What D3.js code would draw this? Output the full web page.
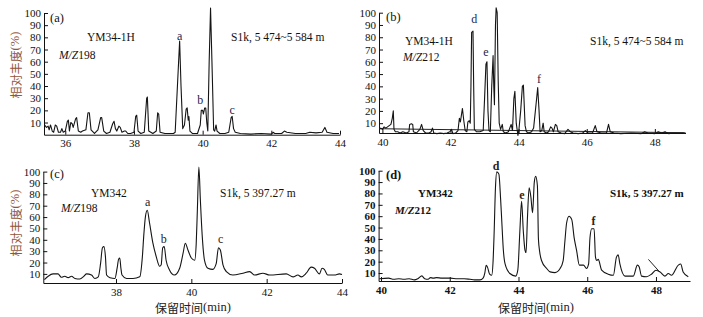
<!DOCTYPE html>
<html>
<head>
<meta charset="utf-8">
<script src="https://cdn.jsdelivr.net/npm/d3@7"></script>
<style>
body { margin: 0; background: #fff; }
svg { display: block; }
</style>
</head>
<body>
<div class="container"></div>
<script>
var yTicks = [10, 20, 30, 40, 50, 60, 70, 80, 90, 100];
var ticksA = [36, 38, 40, 42, 44];
var ticksB = [40, 42, 44, 46, 48];
var ticksC = [38, 40, 42, 44];
var ticksD = [40, 42, 44, 46, 48];

var wellTop = 'YM34-1H';
var wellBottom = 'YM342';
var depthTop = 'S1k, 5 474~5 584 m';
var depthBottom = 'S1k, 5 397.27 m';
var mzLeft = '198';
var mzRight = '212';

var peaksA = [['a', 39.33, 81], ['b', 39.93, 28.5], ['c', 40.86, 20]];
var peaksB = [['d', 42.7, 94.8], ['e', 43.04, 68], ['f', 44.6, 46]];
var peaksC = [['a', 38.84, 73.5], ['b', 39.27, 40.7], ['c', 40.78, 40.7]];
var peaksD = [['d', 43.35, 104], ['e', 44.1, 78.8], ['f', 46.18, 56]];

// retention time (min), relative abundance (%)
var traceA = [[35.40, 8], [35.45, 6], [35.5, 7], [35.53, 4], [35.57, 8], [35.62, 3], [35.66, 2], [35.71, 8], [35.75, 7],
    [35.8, 2], [35.86, 2], [35.9, 5], [35.94, 2], [36.0, 3], [36.06, 11], [36.09, 12], [36.12, 3], [36.16, 10], [36.2, 9],
    [36.23, 6], [36.3, 13], [36.33, 14], [36.38, 3], [36.45, 2], [36.5, 3], [36.6, 4], [36.66, 18], [36.7, 18], [36.75, 4],
    [36.85, 1], [36.95, 4], [37.03, 14], [37.06, 14], [37.12, 3], [37.2, 1], [37.3, 2], [37.38, 9], [37.42, 11], [37.46, 5],
    [37.5, 3], [37.56, 7], [37.6, 6], [37.65, 2], [37.72, 3], [37.76, 3], [37.82, 1], [37.9, 1], [38.0, 2], [38.05, 15],
    [38.08, 16], [38.12, 3], [38.2, 1], [38.3, 2], [38.37, 30], [38.39, 31], [38.43, 3], [38.55, 1], [38.65, 3], [38.69, 18],
    [38.72, 17], [38.76, 2], [38.9, 1], [39.05, 1], [39.15, 1], [39.2, 2], [39.3, 60], [39.33, 77], [39.37, 40], [39.42, 5],
    [39.47, 8], [39.52, 21], [39.55, 22], [39.58, 12], [39.6, 15], [39.63, 3], [39.7, 1], [39.85, 1], [39.93, 8], [39.96, 20],
    [40.0, 20], [40.02, 17], [40.06, 22], [40.09, 22], [40.12, 10], [40.15, 3], [40.19, 60], [40.23, 104], [40.28, 50],
    [40.32, 4], [40.35, 3], [40.39, 8], [40.42, 3], [40.5, 1], [40.65, 1], [40.76, 2], [40.83, 14], [40.86, 15], [40.9, 5],
    [40.95, 2], [41.1, 1], [41.4, 0.5], [41.7, 1], [42.0, 0.5], [42.05, 2], [42.1, 1], [42.3, 1], [42.38, 3], [42.45, 2],
    [42.7, 1], [43.0, 1], [43.12, 2], [43.3, 1.5], [43.48, 2], [43.56, 6], [43.62, 2], [43.8, 1], [43.97, 1]];

var traceB = [[39.91, 5], [39.95, 6], [40.0, 5], [40.05, 7], [40.1, 6], [40.15, 7], [40.2, 8], [40.25, 9], [40.29, 14],
    [40.32, 20], [40.34, 5], [40.38, 3], [40.45, 3], [40.52, 2], [40.6, 3], [40.7, 2], [40.78, 3], [40.8, 9], [40.85, 9.5],
    [40.89, 9], [40.91, 3], [41.0, 2], [41.1, 5], [41.15, 9], [41.2, 4], [41.27, 2], [41.37, 2], [41.43, 3], [41.47, 6],
    [41.51, 2], [41.6, 1.5], [41.7, 2], [41.8, 1.5], [41.9, 2], [41.98, 3], [42.03, 5], [42.07, 1.5], [42.15, 2], [42.22, 4],
    [42.26, 14], [42.29, 11], [42.35, 22], [42.39, 12], [42.43, 4], [42.48, 3], [42.51, 11], [42.55, 12], [42.58, 10],
    [42.6, 40], [42.62, 84], [42.66, 85], [42.68, 40], [42.7, 5], [42.76, 3], [42.86, 3], [42.96, 4], [43.0, 30],
    [43.04, 58], [43.07, 60], [43.1, 20], [43.13, 4], [43.17, 3], [43.21, 40], [43.25, 65], [43.27, 40], [43.29, 25],
    [43.32, 90], [43.34, 104], [43.37, 100], [43.4, 45], [43.43, 10], [43.47, 5], [43.52, 9], [43.55, 3], [43.62, 2],
    [43.7, 3], [43.78, 9], [43.82, 4], [43.86, 30], [43.89, 36], [43.93, 10], [43.98, 0], [44.01, 5], [44.06, 20],
    [44.11, 40], [44.14, 41], [44.19, 8], [44.23, 3], [44.3, 2], [44.38, 3], [44.44, 6], [44.51, 25], [44.56, 39],
    [44.6, 20], [44.63, 3], [44.68, 4], [44.72, 10], [44.75, 3], [44.82, 2], [44.88, 3], [44.94, 7], [44.98, 6], [45.02, 3],
    [45.08, 9], [45.12, 8], [45.16, 3], [45.25, 2], [45.35, 1.5], [45.45, 5], [45.52, 3], [45.6, 2], [45.75, 1.5],
    [45.88, 2], [45.96, 4], [46.04, 2], [46.17, 2], [46.25, 8], [46.3, 3], [46.42, 2], [46.58, 2], [46.64, 9], [46.69, 3],
    [46.8, 2], [47.0, 1.5], [47.3, 2], [47.6, 1.5], [47.7, 3], [47.8, 2], [48.0, 1.5], [48.1, 3], [48.2, 2], [48.3, 3],
    [48.4, 1.5], [48.6, 2], [48.85, 2]];

var baseLineB = [[39.9, 5.5], [48.9, 2.2]];

var traceC = [[36.1, 5], [36.2, 8], [36.33, 10], [36.46, 10], [36.55, 7], [36.64, 8], [36.73, 6.7], [36.82, 8], [36.91, 6],
    [37.04, 5.5], [37.15, 8], [37.22, 10], [37.35, 9], [37.44, 6], [37.53, 7.4], [37.59, 19], [37.64, 33], [37.68, 34],
    [37.72, 25], [37.75, 9], [37.84, 6.7], [37.97, 6], [38.03, 15], [38.07, 23], [38.1, 24], [38.13, 15], [38.16, 9],
    [38.28, 6], [38.45, 6], [38.63, 7.4], [38.7, 25], [38.74, 45], [38.78, 60], [38.83, 66], [38.89, 55], [38.98, 37],
    [39.07, 25], [39.16, 16.7], [39.2, 18], [39.24, 33], [39.28, 34], [39.33, 22], [39.42, 13.5], [39.55, 9], [39.69, 15],
    [39.78, 28], [39.84, 37], [39.91, 31], [40.0, 24], [40.09, 22], [40.13, 37], [40.16, 66], [40.2, 104], [40.24, 75],
    [40.29, 43], [40.35, 22], [40.44, 15], [40.57, 14], [40.66, 19], [40.72, 33], [40.77, 31], [40.84, 18], [40.93, 12],
    [41.1, 9], [41.37, 10.6], [41.55, 12], [41.68, 9], [41.9, 10.6], [42.08, 9], [42.52, 10], [42.7, 7.4], [42.83, 9],
    [42.92, 7.4], [43.05, 10.6], [43.18, 16], [43.27, 15], [43.4, 10], [43.47, 15], [43.53, 14], [43.62, 9], [43.8, 9],
    [43.93, 10], [44.0, 9.5]];

var traceD = [[39.95, 5], [40.22, 5.5], [40.37, 4.5], [40.52, 5], [40.67, 4.5], [40.82, 5], [40.97, 4], [41.07, 5],
    [41.19, 7.5], [41.27, 5], [41.37, 4.5], [41.44, 6], [41.52, 5.5], [41.62, 6], [41.77, 5.5], [41.92, 5.5], [42.02, 5.5],
    [42.22, 5], [42.42, 5], [42.59, 4.5], [42.72, 4], [42.88, 4], [42.97, 5.5], [43.02, 10], [43.06, 16.8], [43.1, 15],
    [43.16, 9], [43.22, 8], [43.26, 20], [43.29, 44], [43.33, 85], [43.37, 99], [43.43, 97], [43.48, 75], [43.51, 58],
    [43.56, 30], [43.61, 18], [43.75, 9.6], [43.92, 7.3], [43.98, 12.5], [44.04, 47], [44.09, 73], [44.14, 47], [44.19, 30],
    [44.22, 28], [44.26, 58], [44.31, 85], [44.36, 77], [44.41, 63], [44.46, 90], [44.5, 95], [44.55, 87], [44.58, 40],
    [44.62, 28], [44.67, 21], [44.82, 14], [44.92, 11], [45.06, 10.4], [45.21, 14], [45.3, 21], [45.35, 38], [45.4, 54],
    [45.47, 60], [45.55, 57], [45.62, 41], [45.69, 30], [45.77, 17], [45.89, 17], [45.98, 14], [46.04, 18], [46.08, 41],
    [46.13, 49], [46.2, 49], [46.24, 24], [46.28, 21], [46.32, 22], [46.42, 12.5], [46.61, 9], [46.76, 8], [46.85, 24],
    [46.9, 26], [46.95, 18], [47.1, 7.3], [47.34, 7.3], [47.46, 17], [47.51, 15.6], [47.58, 7.3], [47.72, 6.8], [47.87, 9],
    [48.0, 12.5], [48.12, 11], [48.26, 7.3], [48.36, 9.6], [48.45, 8], [48.65, 17], [48.72, 18], [48.79, 11], [48.94, 6.8]];

var strayD = [[47.78, 22], [48.12, 10.5]];

const WIDTH = 703;
const HEIGHT = 317;
const SERIF = '"Liberation Serif", "Times New Roman", serif';
const CJK = '"Noto Sans CJK SC", sans-serif';

var addText = function (g, x, y, str, size, bold, color) {
    return g.append('text')
        .attr('x', x)
        .attr('y', y)
        .attr('dominant-baseline', 'central')
        .attr('font-family', SERIF)
        .attr('font-size', size)
        .attr('font-weight', bold ? 'bold' : 'normal')
        .attr('fill', color || '#111')
        .text(str);
};

var addCjkLabel = function (label, cjk, latin) {
    label.attr('text-anchor', 'middle')
        .attr('dominant-baseline', 'central')
        .attr('font-size', 12);
    label.append('tspan').attr('font-family', CJK).text(cjk);
    label.append('tspan').attr('font-family', SERIF).attr('font-size', 12.5).text(latin);
    return label;
};

var drawPanel = function (svg, p) {
    var g = svg.append('g').classed('panel-' + p.name, true);
    var x = d3.scaleLinear().domain(p.xDomain).range(p.xRange);
    var y = d3.scaleLinear().domain(p.yDomain).range(p.yRange);
    var weight = p.bold ? 'bold' : 'normal';

    var yAxis = d3.axisLeft(y).tickValues(yTicks).tickSizeInner(-4).tickSizeOuter(0).tickPadding(3);
    var xAxis = d3.axisBottom(x).tickValues(p.xTicks).tickSizeInner(-4).tickSizeOuter(0).tickPadding(5)
        .tickFormat(d3.format('d'));

    [g.append('g').attr('transform', 'translate(' + p.xRange[0] + ',0)').call(yAxis),
     g.append('g').attr('transform', 'translate(0,' + p.yRange[0] + ')').call(xAxis)]
        .forEach(function (ax) {
            ax.attr('font-family', SERIF).attr('font-size', 11).attr('font-weight', weight);
            ax.selectAll('path, line').attr('stroke', '#111');
            ax.selectAll('text').attr('fill', '#111');
        });

    var line = d3.line()
        .x(function (d) { return x(d[0]); })
        .y(function (d) { return y(d[1]); })
        .curve(p.curve);

    p.extra.forEach(function (series) {
        g.append('path').datum(series).attr('d', d3.line()
            .x(function (d) { return x(d[0]); })
            .y(function (d) { return y(d[1]); }))
            .attr('fill', 'none').attr('stroke', '#222').attr('stroke-width', 1);
    });

    g.append('path').datum(p.trace)
        .attr('d', line)
        .attr('fill', 'none')
        .attr('stroke', '#151515')
        .attr('stroke-width', 1.1)
        .attr('stroke-linejoin', 'round');

    p.peaks.forEach(function (pk) {
        addText(g, x(pk[1]), y(pk[2]), pk[0], 12, p.bold, p.peakColor).attr('text-anchor', 'middle');
    });

    var size = p.bold ? 11 : 11.5;
    addText(g, p.tagPos[0], p.tagPos[1], '(' + p.name + ')', 12.5, p.bold);
    addText(g, p.wellPos[0], p.wellPos[1], p.well, size, p.bold);
    addText(g, p.depthPos[0], p.depthPos[1], p.depth, size, p.bold);
    var mz = addText(g, p.mzPos[0], p.mzPos[1], '', size, p.bold);
    mz.append('tspan').attr('font-style', 'italic').text('M/Z');
    mz.append('tspan').text(p.mz);

    if (p.yLabel) {
        addCjkLabel(g.append('text')
            .attr('transform', 'translate(' + p.yLabel[0] + ',' + p.yLabel[1] + ') rotate(-90)')
            .attr('fill', '#94553a'), '相对丰度', '(%)');
    }
    if (p.xLabel) {
        addCjkLabel(g.append('text')
            .attr('x', p.xLabel[0])
            .attr('y', p.xLabel[1])
            .attr('fill', '#222'), '保留时间', '(min)');
    }
};

var visualize = function () {
    var svg = d3.select('.container').append('svg')
        .attr('width', WIDTH)
        .attr('height', HEIGHT)
        .style('background', '#fff');

    var panels = [
        {name: 'a', xDomain: [35.38, 44], xRange: [44, 340], yDomain: [0, 100], yRange: [134.7, 13],
            xTicks: ticksA, trace: traceA, extra: [], peaks: peaksA, curve: d3.curveLinear, bold: false,
            well: wellTop, depth: depthTop, mz: mzLeft, peakColor: '#23264a',
            tagPos: [50, 18], wellPos: [87, 37], depthPos: [231, 37], mzPos: [59, 55], yLabel: [15, 65]},
        {name: 'b', xDomain: [39.9, 48.9], xRange: [379, 685.5], yDomain: [2, 100], yRange: [133, 12.7],
            xTicks: ticksB, trace: traceB, extra: [baseLineB], peaks: peaksB, curve: d3.curveLinear, bold: false,
            well: wellTop, depth: depthTop, mz: mzRight, peakColor: '#23264a',
            tagPos: [386, 17], wellPos: [405, 41], depthPos: [590, 41], mzPos: [403, 57]},
        {name: 'c', xDomain: [36.07, 44], xRange: [43.3, 342], yDomain: [2, 100], yRange: [283, 171.6],
            xTicks: ticksC, trace: traceC, extra: [], peaks: peaksC, curve: d3.curveMonotoneX, bold: false,
            well: wellBottom, depth: depthBottom, mz: mzLeft, peakColor: '#2a2220',
            tagPos: [50, 174], wellPos: [91, 193], depthPos: [220, 193], mzPos: [61, 208],
            yLabel: [15, 223], xLabel: [193, 307]},
        {name: 'd', xDomain: [39.93, 48.99], xRange: [378.6, 690], yDomain: [3, 100], yRange: [281, 170.7],
            xTicks: ticksD, trace: traceD, extra: [strayD], peaks: peaksD, curve: d3.curveMonotoneX, bold: true,
            well: wellBottom, depth: depthBottom, mz: mzRight, peakColor: '#2a2220',
            tagPos: [386, 175], wellPos: [418, 193], depthPos: [610, 193], mzPos: [395, 210],
            xLabel: [536, 307]}
    ];

    panels.forEach(function (p) {
        drawPanel(svg, p);
    });
};

window.onload = visualize;
</script>
</body>
</html>
